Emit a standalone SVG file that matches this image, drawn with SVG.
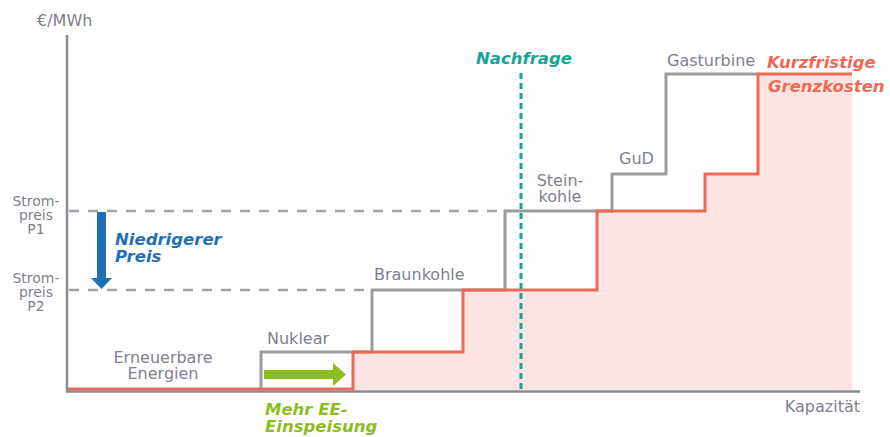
<svg xmlns="http://www.w3.org/2000/svg" width="890" height="437" viewBox="0 0 890 437">
<style>
.lbl{font-family:"DejaVu Sans",Verdana,sans-serif;font-size:16px;fill:#80808e}
.sm{font-family:"DejaVu Sans",Verdana,sans-serif;font-size:14px;fill:#80808e;text-anchor:middle}
.bi{font-family:"DejaVu Sans",Verdana,sans-serif;font-size:16.5px;font-weight:bold;font-style:italic}
.dash{fill:none;stroke:#a2a2aa;stroke-width:2.5;stroke-dasharray:10 9}
</style>
<rect width="890" height="437" fill="#ffffff"/>
<g id="fill">
<path d="M353,389 V352 H463 V290 H597 V211 H705 V174 H758 V74 H852 V390 H353 Z" fill="#fbe4e2"/>
</g>
<g id="connectors">
<path class="dash" d="M69,211 H505"/>
<path class="dash" d="M69,290 H372"/>
<path id="supply-old" d="M261,389 V352 H372 V290 H505 V211 H612 V174 H666 V74 H757" fill="none" stroke="#9c9c9c" stroke-width="3"/>
<path id="supply-new" d="M67,389 H353 V352 H463 V290 H597 V211 H705 V174 H758 V74 H852" fill="none" stroke="#ee6a55" stroke-width="3"/>
<path id="demand" d="M521,73 V389" fill="none" stroke="#17a398" stroke-width="3" stroke-dasharray="6 4"/>
</g>
<g id="axes">
<path d="M67,35 V391.5 H860" fill="none" stroke="#8a8c98" stroke-width="2.5"/>
<text class="lbl" x="37" y="26">€/MWh</text>
<text class="lbl" x="860" y="412" text-anchor="end">Kapazität</text>
</g>
<g id="p1">
<text class="sm" x="36" y="206">Strom-</text>
<text class="sm" x="36" y="220">preis</text>
<text class="sm" x="36" y="234">P1</text>
</g>
<g id="p2">
<text class="sm" x="36" y="283">Strom-</text>
<text class="sm" x="36" y="297">preis</text>
<text class="sm" x="36" y="311">P2</text>
</g>
<g id="lower-price">
<path d="M97,212 H106 V278 H112 L101.5,289 L91,278 H97 Z" fill="#1f6fb8"/>
<text class="bi" x="115" y="245" fill="#1f6fb8">Niedrigerer</text>
<text class="bi" x="115" y="262" fill="#1f6fb8">Preis</text>
</g>
<g id="ee">
<text class="lbl" x="163" y="363" text-anchor="middle">Erneuerbare</text>
<text class="lbl" x="163" y="379" text-anchor="middle">Energien</text>
</g>
<g id="nuklear"><text class="lbl" x="267" y="344">Nuklear</text></g>
<g id="braunkohle"><text class="lbl" x="374" y="280">Braunkohle</text></g>
<g id="steinkohle">
<text class="lbl" x="560" y="186" text-anchor="middle">Stein-</text>
<text class="lbl" x="560" y="202" text-anchor="middle">kohle</text>
</g>
<g id="gud"><text class="lbl" x="619" y="164">GuD</text></g>
<g id="gasturbine"><text class="lbl" x="667" y="66">Gasturbine</text></g>
<g id="nachfrage"><text class="bi" x="476" y="64" fill="#17a398">Nachfrage</text></g>
<g id="grenzkosten">
<text class="bi" x="767" y="68" fill="#ee6a55">Kurzfristige</text>
<text class="bi" x="768" y="92" fill="#ee6a55">Grenzkosten</text>
</g>
<g id="mehr-ee">
<path d="M264,370 H333 V363 L346,374.5 L333,386 V379 H264 Z" fill="#8bbd1f"/>
<text class="bi" x="265" y="415" fill="#8bbd1f">Mehr EE-</text>
<text class="bi" x="265" y="432" fill="#8bbd1f">Einspeisung</text>
</g>
</svg>
